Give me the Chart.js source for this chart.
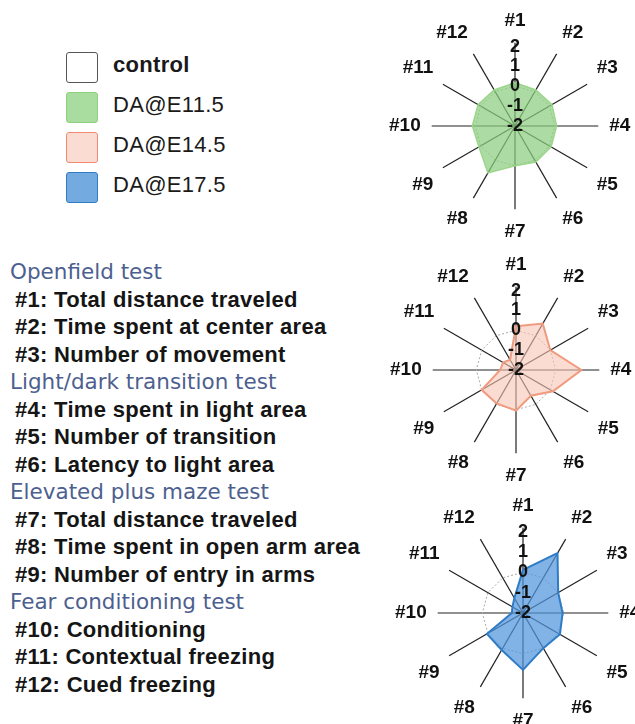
<!DOCTYPE html>
<html>
<head>
<meta charset="utf-8">
<script src="https://cdn.jsdelivr.net/npm/chart.js@4.4.1/dist/chart.umd.min.js"></script>
<style>
  body { margin: 0; background: #fff; font-family: "Liberation Sans", Arial, sans-serif; }
  #page { position: relative; width: 635px; height: 724px; overflow: hidden; }
  .box { position: absolute; width: 30px; height: 29px; border-radius: 3px; }
  .leg { position: absolute; left: 113px; font-size: 22px; letter-spacing: 0.3px; color: #1a1a1a; }
  .line { position: absolute; left: 15px; font-size: 22px; letter-spacing: 0.3px; font-weight: bold; color: #151515; white-space: nowrap; }
  .head { position: absolute; left: 10px; font-size: 21.5px; font-family: "DejaVu Sans", sans-serif; color: #4d5f8f; white-space: nowrap; }
  canvas { position: absolute; }
</style>
</head>
<body>
<div id="page">
  <div class="box" style="left:66px;top:52px;background:#fff;border:1px solid #555;"></div>
  <div class="leg" style="top:52px;font-weight:bold;">control</div>
  <div class="box" style="left:66px;top:92px;background:#a9dc9f;border:1px solid #8fd07f;"></div>
  <div class="leg" style="top:92px;">DA@E11.5</div>
  <div class="box" style="left:66px;top:132px;background:#fbdcd2;border:1px solid #f08a70;"></div>
  <div class="leg" style="top:132px;">DA@E14.5</div>
  <div class="box" style="left:66px;top:172px;background:#73aae0;border:1px solid #2f7cc6;"></div>
  <div class="leg" style="top:172px;">DA@E17.5</div>
  <div id="notes"></div>
  <canvas id="c1" width="252" height="250" style="left:384px;top:2px;"></canvas>
  <canvas id="c2" width="252" height="250" style="left:385px;top:246px;"></canvas>
  <canvas id="c3" width="256" height="250" style="left:390px;top:489px;"></canvas>
</div>
<script>
// axis labels and scale
const axisLabels = ['#1', '#2', '#3', '#4', '#5', '#6', '#7', '#8', '#9', '#10', '#11', '#12'];
const scaleMin = -2;
const scaleMax = 2.2;

// z-scores
const controlValues = [0, 0, 0, 0, 0, 0, 0, 0, 0, 0, 0, 0];
const e115Values = [0.18, 0.1, 0.15, 0.1, 0.1, 0.1, 0.0, 0.73, 0.1, 0.15, 0.15, 0.1];
const e145Values = [0.2, 0.7, 0.0, 1.3, 0.15, -0.5, 0.05, -0.05, 0.0, -1.2, -1.25, -1.4];
const e175Values = [0.12, 1.4, 0.0, -0.05, 0.1, 0.0, 0.8, 0.1, 0.05, -1.45, -1.4, -1.15];

// text on the left
const noteLines = [
  ['head', 'Openfield test'],
  ['line', '#1: Total distance traveled'],
  ['line', '#2: Time spent at center area'],
  ['line', '#3: Number of movement'],
  ['head', 'Light/dark transition test'],
  ['line', '#4: Time spent in light area'],
  ['line', '#5: Number of transition'],
  ['line', '#6: Latency to light area'],
  ['head', 'Elevated plus maze test'],
  ['line', '#7: Total distance traveled'],
  ['line', '#8: Time spent in open arm area'],
  ['line', '#9:  Number of entry in arms'],
  ['head', 'Fear conditioning test'],
  ['line', '#10: Conditioning'],
  ['line', '#11: Contextual freezing'],
  ['line', '#12: Cued freezing']
];

const notes = document.getElementById('notes');
noteLines.forEach((n, i) => {
  const d = document.createElement('div');
  d.className = n[0];
  d.style.top = (259 + i * 27.5) + 'px';
  d.textContent = n[1];
  notes.appendChild(d);
});

Chart.defaults.font.family = '"Liberation Sans", Arial, sans-serif';

function makeRadar (id, values, fill, border, bw) {
  return new Chart(document.getElementById(id), {
    type: 'radar',
    data: {
      labels: axisLabels,
      datasets: [
        {
          data: values,
          backgroundColor: fill,
          borderColor: border,
          borderWidth: bw,
          pointRadius: 0,
          fill: 'start'
        },
        {
          data: controlValues,
          borderColor: '#a9a9a9',
          borderWidth: 1,
          borderDash: [2, 2],
          pointRadius: 0,
          fill: false
        }
      ]
    },
    options: {
      responsive: false,
      animation: false,
      plugins: { legend: { display: false }, tooltip: { enabled: false } },
      elements: { line: { tension: 0 } },
      layout: { padding: 0 },
      scales: {
        r: {
          min: scaleMin,
          max: scaleMax,
          grid: { display: false },
          angleLines: { color: '#222', lineWidth: 1.2 },
          pointLabels: {
            color: '#111',
            padding: 0,
            font: { size: 19, weight: 'bold' }
          },
          ticks: {
            stepSize: 1,
            includeBounds: false,
            showLabelBackdrop: false,
            color: '#111',
            font: { size: 18, weight: 'bold' },
            z: 1
          }
        }
      }
    }
  });
}

makeRadar('c1', e115Values, 'rgba(140,206,128,0.72)', '#9ad68a', 1.5);
makeRadar('c2', e145Values, 'rgba(247,196,180,0.6)', '#f09a7e', 2);
makeRadar('c3', e175Values, 'rgba(80,150,220,0.72)', '#2f7cc6', 2);
</script>
</body>
</html>
